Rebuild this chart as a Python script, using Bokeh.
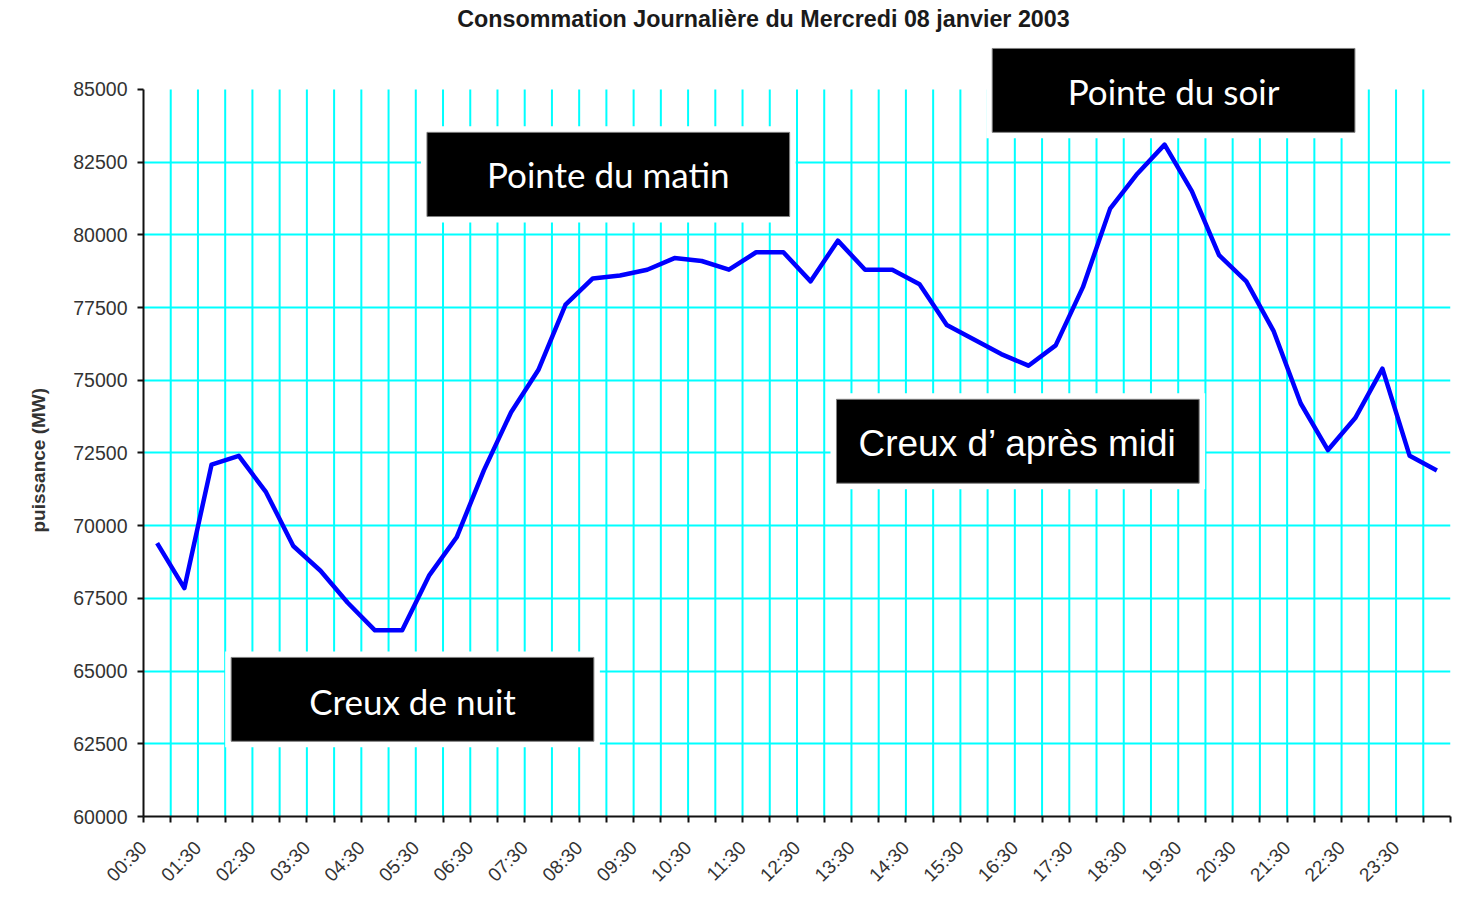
import math
from bokeh.plotting import figure
from bokeh.models import Range1d, FixedTicker, BoxAnnotation, Label, Title
from bokeh.embed import file_html
from bokeh.resources import INLINE

# Half-hour slots of the day
times = ["00:30", "01:00", "01:30", "02:00", "02:30", "03:00", "03:30", "04:00",
         "04:30", "05:00", "05:30", "06:00", "06:30", "07:00", "07:30", "08:00",
         "08:30", "09:00", "09:30", "10:00", "10:30", "11:00", "11:30", "12:00",
         "12:30", "13:00", "13:30", "14:00", "14:30", "15:00", "15:30", "16:00",
         "16:30", "17:00", "17:30", "18:00", "18:30", "19:00", "19:30", "20:00",
         "20:30", "21:00", "21:30", "22:00", "22:30", "23:00", "23:30", "24:00"]

# Consumption (MW)
conso = [69400, 67850, 72100, 72400, 71150, 69300, 68450, 67350,
         66400, 66400, 68300, 69600, 71900, 73900, 75350, 77600,
         78500, 78600, 78800, 79200, 79100, 78800, 79400, 79400,
         78400, 79800, 78800, 78800, 78300, 76900, 76400, 75900,
         75500, 76200, 78200, 80900, 82100, 83100, 81500, 79300,
         78400, 76700, 74200, 72600, 73700, 75400, 72400, 71900]

y_ticks = [60000, 62500, 65000, 67500, 70000, 72500, 75000, 77500, 80000, 82500, 85000]

title_text = "Consommation Journalière du Mercredi 08 janvier 2003"
y_label = "puissance (MW)"

# annotation boxes: text, left, right, bottom, top (data units), text y, font, size
boxes = [
    ("Pointe du matin", 10.41, 23.73, 80629, 83523, 82080, "Lato", "35px"),
    ("Pointe du soir", 31.17, 44.49, 83523, 86408, 84955, "Lato", "35px"),
    ("Creux de nuit", 3.22, 16.54, 62586, 65470, 63959, "Lato", "35px"),
    ("Creux d\u2019 après midi", 25.45, 38.77, 71459, 74344, 72809, "Liberation Sans", "37px"),
]

W, H = 1458, 895
B_LEFT, B_RIGHT, B_BOTTOM = 143, 8, 78
px_per_unit_y = 728 / (y_ticks[-1] - y_ticks[0])
frame_h = H - B_BOTTOM
y_top = y_ticks[0] + frame_h / px_per_unit_y

n = len(times)
xs = [i + 0.5 for i in range(n)]

p = figure(width=W, height=H, title=None,
           x_range=Range1d(0, n), y_range=Range1d(y_ticks[0], y_top),
           output_backend="svg", toolbar_location=None,
           min_border_left=B_LEFT, min_border_right=B_RIGHT,
           min_border_top=0, min_border_bottom=B_BOTTOM)
p.outline_line_color = None
p.background_fill_color = "white"
p.border_fill_color = "white"

# grids
p.xgrid.visible = False
p.ygrid.ticker = FixedTicker(ticks=y_ticks[1:-1])
p.ygrid.grid_line_color = "#00FFFF"
p.ygrid.grid_line_width = 2
grid_x = list(range(1, n))
p.segment(x0=grid_x, y0=[y_ticks[0]] * len(grid_x), x1=grid_x, y1=[y_ticks[-1]] * len(grid_x),
          line_color="#00FFFF", line_width=2)

# x axis
xa = p.xaxis[0]
xa.ticker = FixedTicker(ticks=list(range(n + 1)))
xa.major_label_overrides = {i: (times[i] if (i % 2 == 0 and i < n) else "") for i in range(n + 1)}
xa.major_label_orientation = math.pi / 4
xa.major_label_text_font = "Liberation Sans"
xa.major_label_text_font_size = "19px"
xa.major_label_text_color = "#333333"
xa.major_label_standoff = 22

# y axis
ya = p.yaxis[0]
ya.ticker = FixedTicker(ticks=y_ticks)
ya.bounds = (y_ticks[0], y_ticks[-1])
ya.major_label_text_font = "Liberation Sans"
ya.major_label_text_font_size = "19.5px"
ya.major_label_text_color = "#333333"
ya.major_label_standoff = 10

for ax in (xa, ya):
    ax.axis_line_color = "#111111"
    ax.axis_line_width = 2
    ax.major_tick_line_color = "#111111"
    ax.major_tick_line_width = 2
    ax.major_tick_out = 6
    ax.major_tick_in = 0
    ax.minor_tick_line_color = None

# y axis title, placed in the left panel
p.add_layout(Title(text=y_label, align="left", offset=284,
                   text_font="Liberation Sans", text_font_style="bold",
                   text_font_size="19px", text_color="#333333", standoff=44), "left")

# data line
p.line(xs, conso, line_color="#0000FF", line_width=4.5, line_join="round")

# annotation boxes
mx = 6 / 27.23
my = 6 / px_per_unit_y
for text, l, r, b, t, ty, font, size in boxes:
    p.add_layout(BoxAnnotation(left=l - mx, right=r + mx, bottom=b - my, top=t + my,
                               fill_color="white", fill_alpha=1, line_color=None))
    p.add_layout(BoxAnnotation(left=l, right=r, bottom=b, top=t,
                               fill_color="black", fill_alpha=1,
                               line_color="#808080", line_alpha=1, line_width=1))
    p.add_layout(Label(x=(l + r) / 2, y=ty, text=text, text_align="center",
                       text_baseline="alphabetic", text_color="white",
                       text_font=font, text_font_size=size))

# title
p.add_layout(Label(x=620, y=798, x_units="screen", y_units="screen",
                   text=title_text, text_align="center", text_baseline="alphabetic",
                   text_font="Liberation Sans", text_font_style="bold",
                   text_font_size="23.3px", text_color="#1a1a1a"))

open("out.html", "w").write(file_html(p, INLINE))
